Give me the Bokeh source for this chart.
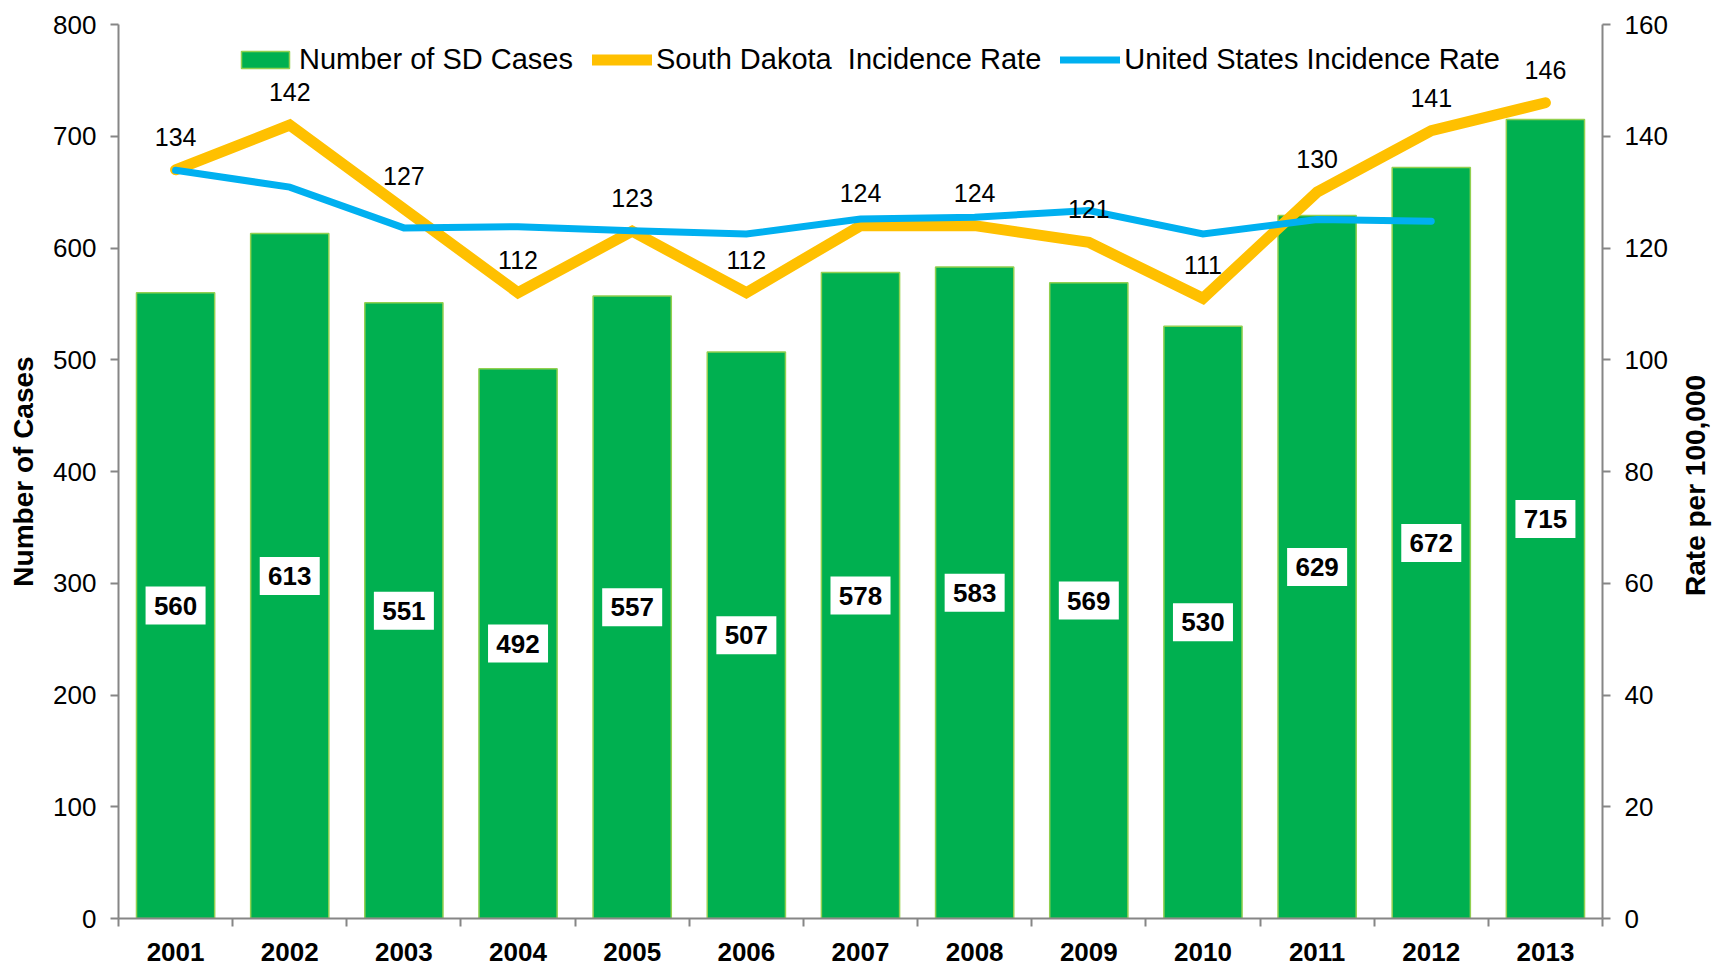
import math
from bokeh.plotting import figure
from bokeh.layouts import row
from bokeh.models import (ColumnDataSource, Range1d, LinearAxis, FixedTicker,
                          Legend, LegendItem)
from bokeh.core.properties import value
from bokeh.embed import file_html
from bokeh.resources import INLINE

# ---------------- data ----------------
years = ["2001", "2002", "2003", "2004", "2005", "2006", "2007",
         "2008", "2009", "2010", "2011", "2012", "2013"]
sd_cases = [560, 613, 551, 492, 557, 507, 578, 583, 569, 530, 629, 672, 715]
sd_rate = [134, 142, 127, 112, 123, 112, 124, 124, 121, 111, 130, 141, 146]
us_rate = [133.9, 130.9, 123.6, 123.8, 123.1, 122.5, 125.2, 125.5, 126.7,
           122.5, 125.1, 124.8]
left_ticks = [0, 100, 200, 300, 400, 500, 600, 700, 800]
right_ticks = [0, 20, 40, 60, 80, 100, 120, 140, 160]
left_title = "Number of Cases"
right_title = "Rate per 100,000"

FONTNAME = "Liberation Sans"
FONT = value(FONTNAME)
GREEN = "#00B050"
GREEN_EDGE = "#92D050"
ORANGE = "#FFC000"
BLUE = "#00B0F0"
AXIS = "#868686"

xs = list(range(len(years)))
src_bars = ColumnDataSource(dict(
    x=xs, cases=sd_cases, half=[c / 2 for c in sd_cases],
    lab=[str(c) for c in sd_cases]))
src_sd = ColumnDataSource(dict(x=xs, rate=sd_rate, lab=[str(r) for r in sd_rate]))
src_us = ColumnDataSource(dict(x=xs[:len(us_rate)], rate=us_rate))

p = figure(width=1675, height=965, output_backend="svg", toolbar_location=None,
           x_range=Range1d(-0.5, len(years) - 0.5),
           y_range=Range1d(0, 800),
           x_axis_type=None, y_axis_type=None,
           min_border_left=118, min_border_right=73,
           min_border_top=24, min_border_bottom=47)
p.extra_y_ranges = {"rate": Range1d(0, 160)}
p.xgrid.visible = False
p.ygrid.visible = False
p.outline_line_color = None
p.background_fill_color = "white"
p.border_fill_color = "white"


def style_axis(ax):
    ax.axis_line_color = AXIS
    ax.axis_line_width = 2
    ax.major_tick_line_color = AXIS
    ax.major_tick_line_width = 2
    ax.minor_tick_line_color = None
    ax.major_label_text_font = FONTNAME
    ax.major_label_text_font_size = "26px"
    ax.major_label_text_color = "black"
    ax.axis_label_text_font = FONTNAME
    ax.axis_label_text_font_size = "28px"
    ax.axis_label_text_font_style = "bold"
    ax.axis_label_text_color = "black"


xaxis = LinearAxis(ticker=FixedTicker(ticks=xs,
                                      minor_ticks=[i - 0.5 for i in range(len(years) + 1)]))
style_axis(xaxis)
xaxis.major_label_overrides = {i: y for i, y in zip(xs, years)}
xaxis.major_label_text_font_style = "bold"
xaxis.major_tick_line_color = None
xaxis.major_tick_out = 0
xaxis.major_tick_in = 0
xaxis.minor_tick_line_color = AXIS
xaxis.minor_tick_line_width = 2
xaxis.minor_tick_out = 8
xaxis.minor_tick_in = 0
xaxis.major_label_standoff = 16
p.add_layout(xaxis, "below")

yaxis = LinearAxis(ticker=FixedTicker(ticks=left_ticks), axis_label=left_title)
style_axis(yaxis)
yaxis.major_tick_out = 8
yaxis.major_tick_in = 0
yaxis.major_label_standoff = 14
yaxis.axis_label_standoff = 11
p.add_layout(yaxis, "left")

raxis = LinearAxis(y_range_name="rate", ticker=FixedTicker(ticks=right_ticks))
style_axis(raxis)
raxis.major_tick_out = 8
raxis.major_tick_in = 0
raxis.major_label_standoff = 14
p.add_layout(raxis, "right")

# ---------------- glyphs ----------------
bars = p.vbar(x="x", top="cases", width=0.685, source=src_bars,
              fill_color=GREEN, line_color=GREEN_EDGE, line_width=1.5)

sd_line = p.line(x="x", y="rate", source=src_sd, y_range_name="rate",
                 line_color=ORANGE, line_width=11, line_cap="round", line_join="miter")
us_line = p.line(x="x", y="rate", source=src_us, y_range_name="rate",
                 line_color=BLUE, line_width=7, line_cap="round", line_join="miter")

# bar value labels with white boxes
p.rect(x="x", y="half", width=60, height=38, width_units="screen",
       height_units="screen", source=src_bars, fill_color="white", line_color=None)
p.text(x="x", y="half", text="lab", source=src_bars, text_font=FONT,
       text_font_size="26px", text_font_style="bold", text_color="black",
       text_align="center", text_baseline="middle")

# SD rate labels
p.text(x="x", y="rate", text="lab", source=src_sd, y_range_name="rate",
       text_font=FONT, text_font_size="25px", text_color="black",
       text_align="center", text_baseline="middle", y_offset=-33)

# ---------------- legend ----------------
legend = Legend(items=[
    LegendItem(label="Number of SD Cases", renderers=[bars]),
    LegendItem(label="South Dakota  Incidence Rate", renderers=[sd_line]),
    LegendItem(label="United States Incidence Rate", renderers=[us_line]),
], orientation="horizontal", location=(117, 842),
    label_text_font=FONTNAME, label_text_font_size="29px", label_text_color="black",
    glyph_width=60, glyph_height=21, label_standoff=4, spacing=19,
    padding=4, margin=0, border_line_color=None, background_fill_alpha=0)
p.add_layout(legend, "center")

# ---------------- right-axis title strip (reads bottom-to-top) ----------------
p2 = figure(width=39, height=965, output_backend="svg", toolbar_location=None,
            x_range=Range1d(0, 1), y_range=Range1d(0, 160),
            x_axis_type=None, y_axis_type=None,
            min_border_left=0, min_border_right=0,
            min_border_top=24, min_border_bottom=47)
p2.xgrid.visible = False
p2.ygrid.visible = False
p2.outline_line_color = None
p2.border_fill_color = "white"
p2.text(x=[0.5], y=[77.5], text=[right_title], angle=math.pi / 2,
        text_font=FONT, text_font_size="28px", text_font_style="bold",
        text_color="black", text_align="center", text_baseline="middle")

layout = row(p, p2, spacing=0)
open("out.html", "w").write(file_html(layout, INLINE))
